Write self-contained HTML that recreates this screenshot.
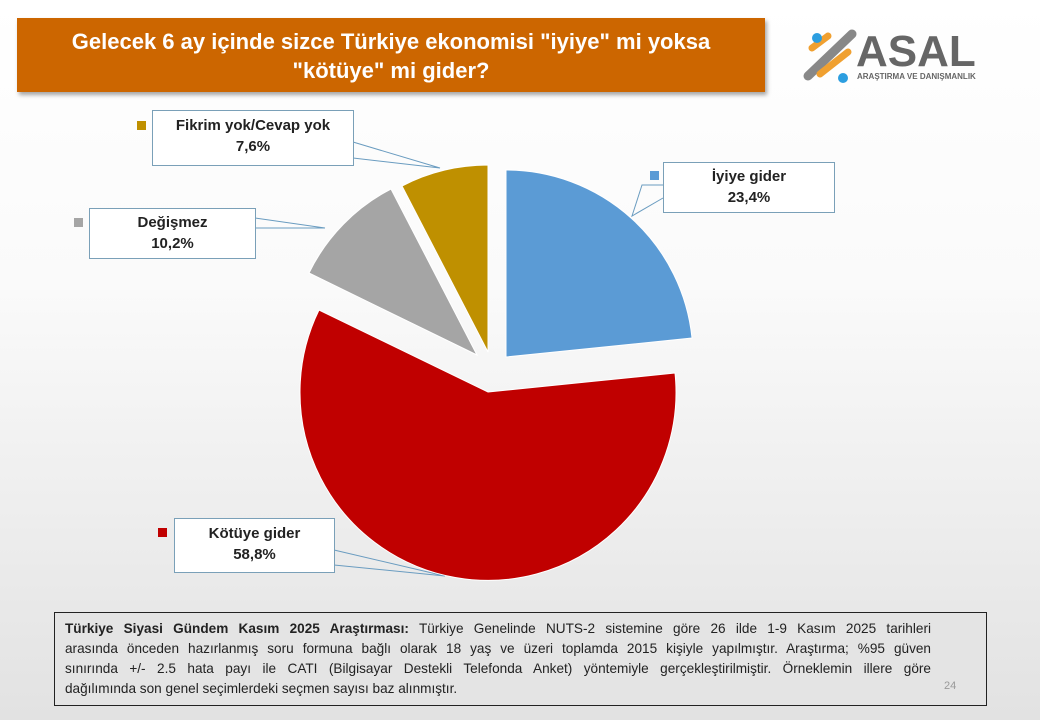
<!DOCTYPE html>
<html><head><meta charset="utf-8"><style>
body{margin:0;width:1040px;height:720px;overflow:hidden;font-family:"Liberation Sans",sans-serif;background:linear-gradient(#ffffff 0%,#fafafa 40%,#e2e2e2 100%);position:relative}
.title{position:absolute;left:17px;top:18px;width:748px;height:74px;background:#cc6600;box-shadow:2px 3px 4px rgba(0,0,0,.35);color:#fff;font-weight:bold;font-size:22px;text-align:center;line-height:29px;padding-top:9px;box-sizing:border-box}
.lbl{position:absolute;background:#fff;border:1px solid #7aa0b8;text-align:center;font-weight:bold;font-size:15px;line-height:21px;color:#222;box-sizing:border-box;padding-top:4px}
.mk{position:absolute;width:9px;height:9px}
.foot{position:absolute;left:54px;top:612px;width:933px;height:94px;border:1px solid #222;background:#e4e4e4;box-sizing:border-box;padding:6px 10px;font-size:13.6px;line-height:20px;color:#222}
.foot div{white-space:nowrap}
.j{text-align:justify;text-align-last:justify;white-space:normal!important;width:866px}
</style></head><body>
<div class="title">Gelecek 6 ay içinde sizce Türkiye ekonomisi "iyiye" mi yoksa<br>"kötüye" mi gider?</div>
<svg style="position:absolute;left:800px;top:26px" width="190" height="58">
<g stroke-linecap="round">
<line x1="8" y1="50" x2="52" y2="8" stroke="#888" stroke-width="9"/>
<line x1="12" y1="22" x2="28" y2="10" stroke="#f0a030" stroke-width="7"/>
<line x1="20" y1="48" x2="48" y2="26" stroke="#f0a030" stroke-width="7"/>
</g>
<circle cx="17" cy="12" r="5" fill="#2c9ee0"/><circle cx="43" cy="52" r="5" fill="#2c9ee0"/>
<text x="56" y="40" font-family="Liberation Sans" font-weight="bold" font-size="44" fill="#666">ASAL</text>
<text x="57" y="53" font-family="Liberation Sans" font-weight="bold" font-size="8" fill="#666">ARAŞTIRMA VE DANIŞMANLIK</text>
</svg>
<svg style="position:absolute;left:0;top:0" width="1040" height="720">
<g stroke="#6a9cc0" stroke-width="1" fill="none">
<polyline points="353,142 440,168 353,158"/>
<polyline points="255,218 325,228 255,228"/>
<polyline points="663,185 642,185 632,216 663,198"/>
<polyline points="334,550 445,576 334,565"/>
</g>
<path d="M506,357 L506,170 A187,187 0 0 1 692,338 Z" fill="#5b9bd5" stroke="#fff" stroke-width="1"/>
<path d="M488,392 L675,373 A188,188 0 1 1 319,310 Z" fill="#c00000" stroke="#fff" stroke-width="1"/>
<path d="M477,355 L309,273 A187,187 0 0 1 391,189 Z" fill="#a5a5a5" stroke="#fff" stroke-width="1"/>
<path d="M488,352 L402,186 A187,187 0 0 1 488,165 Z" fill="#bf9000" stroke="#fff" stroke-width="1"/>
</svg>
<div class="mk" style="left:137px;top:121px;background:#bf9000"></div>
<div class="lbl" style="left:152px;top:110px;width:202px;height:56px">Fikrim yok/Cevap yok<br>7,6%</div>
<div class="mk" style="left:74px;top:218px;background:#a5a5a5"></div>
<div class="lbl" style="left:89px;top:208px;width:167px;height:51px;padding-top:3px">Değişmez<br>10,2%</div>
<div class="mk" style="left:650px;top:171px;background:#5b9bd5"></div>
<div class="lbl" style="left:663px;top:162px;width:172px;height:51px;padding-top:3px">İyiye gider<br>23,4%</div>
<div class="mk" style="left:158px;top:528px;background:#c00000"></div>
<div class="lbl" style="left:174px;top:518px;width:161px;height:55px">Kötüye gider<br>58,8%</div>
<div class="foot">
<div class="j"><b>Türkiye Siyasi Gündem Kasım 2025 Araştırması:</b> Türkiye Genelinde NUTS-2 sistemine göre 26 ilde 1-9 Kasım 2025 tarihleri</div>
<div class="j">arasında önceden hazırlanmış soru formuna bağlı olarak 18 yaş ve üzeri toplamda 2015 kişiyle yapılmıştır. Araştırma; %95 güven</div>
<div class="j">sınırında +/- 2.5 hata payı ile CATI (Bilgisayar Destekli Telefonda Anket) yöntemiyle gerçekleştirilmiştir. Örneklemin illere göre</div>
<div>dağılımında son genel seçimlerdeki seçmen sayısı baz alınmıştır.</div>
</div>
<div style="position:absolute;left:944px;top:680px;font-size:11px;color:#999">24</div>
</body></html>
